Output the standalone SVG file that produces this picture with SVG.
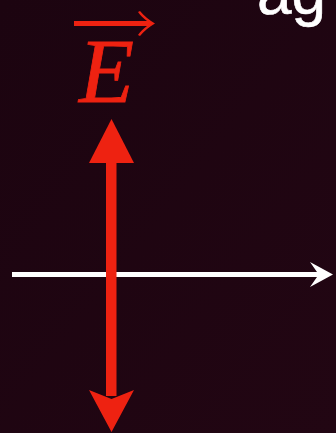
<svg xmlns="http://www.w3.org/2000/svg" width="336" height="433" viewBox="0 0 336 433">
<defs>
<style>
.red{fill:#ee2211}
.wht{fill:#ffffff}
</style>
<linearGradient id="bg" x1="0" y1="0" x2="1" y2="1">
<stop offset="0" stop-color="#1c0410"/>
<stop offset="1" stop-color="#220613"/>
</linearGradient>
</defs>
<rect width="336" height="433" fill="url(#bg)"/>
<g id="title">
<text x="257" y="14" font-family="Liberation Sans, Arial, sans-serif" font-size="62" fill="#ffffff" stroke="#ffffff" stroke-width="0.6">ag</text>
</g>
<g id="label-E">
<text x="79" y="102" font-family="Liberation Serif, Times New Roman, serif" font-style="italic" font-size="90" fill="#ee2211" stroke="#ee2211" stroke-width="0.8">E</text>
<path class="red" d="M74 21 H147 C143 18 140 15 138 12 L140 11 C144 16 149 20 155 23.5 C149 27 144 31 140 36 L138 35 C140 32 143 29 147 26 H74 Z"/>
</g>
<g id="connectors">
<path id="axis" class="wht" d="M12 272 H317 L310 262 L333 274.5 L310 287 L317 277 H12 Z"/>
<g id="field-arrow">
<rect class="red" x="106" y="160" width="10.5" height="236"/>
<path class="red" d="M111.5 119 L134 163 L89 163 Z"/>
<path class="red" d="M111.5 432 L89 390 L111.5 399 L134 390 Z"/>
</g>
</g>
</svg>
